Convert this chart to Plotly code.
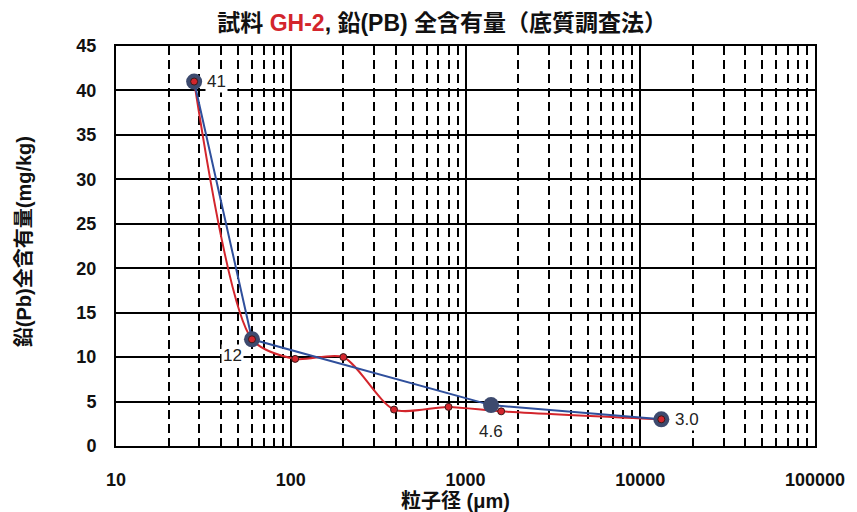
import numpy as np
import plotly.graph_objects as go

# ---- data ----
avg_x = [28, 60, 1400, 13200]          # particle size (μm) of averaged points
avg_y = [41, 12, 4.6, 3.0]             # Pb content (mg/kg)
avg_labels = ["41", "12", "4.6", "3.0"]

det_x = [28, 60, 106, 200, 390, 800, 1600, 13200]
det_y = [41, 12, 9.8, 10.0, 4.1, 4.4, 3.9, 3.0]

x_major = [10, 100, 1000, 10000, 100000]
x_minor = [m * d for d in [10, 100, 1000, 10000] for m in range(2, 10)]
y_ticks = list(range(0, 50, 5))

RED = "#d3252c"
BLUE = "#2f4f9c"
DOT = "#3d4a6e"
FONT = "Liberation Sans, Arial, Noto Sans CJK JP"

fig = go.Figure()

fig.add_trace(go.Scatter(
    x=det_x, y=det_y, mode="lines",
    line=dict(color=RED, width=2, shape="spline", smoothing=0.75),
    hoverinfo="skip", showlegend=False))

fig.add_trace(go.Scatter(
    x=avg_x, y=avg_y, mode="lines",
    line=dict(color=BLUE, width=2),
    hoverinfo="skip", showlegend=False))

fig.add_trace(go.Scatter(
    x=avg_x, y=avg_y, mode="markers",
    marker=dict(size=16, color=DOT, line=dict(width=0)),
    showlegend=False))

fig.add_trace(go.Scatter(
    x=det_x, y=det_y, mode="markers",
    marker=dict(size=7, color=RED, line=dict(color="#3a1a1a", width=1)),
    showlegend=False))

# value labels
offsets = [(22, 0), (-19, -16), (0, -26), (26, 0)]
for xv, yv, txt, (dx, dy) in zip(avg_x, avg_y, avg_labels, offsets):
    fig.add_annotation(
        x=np.log10(xv), y=yv, text=txt, showarrow=False,
        xshift=dx, yshift=dy, bgcolor="white",
        font=dict(size=17, color="#222", family=FONT), borderpad=1)

fig.update_xaxes(
    type="log", range=[1, 5],
    tickvals=x_major, ticktext=[str(v) for v in x_major],
    showgrid=True, gridcolor="black", gridwidth=1.5,
    showline=True, linecolor="black", linewidth=2, mirror="allticks",
    ticks="", ticklabelstandoff=16,
    tickfont=dict(size=18, color="#111", family=FONT, weight="bold"),
    minor=dict(tickmode="array", tickvals=x_minor, showgrid=True,
               gridcolor="black", gridwidth=1.5, griddash="9px,5px",
               ticks="inside", ticklen=6, tickcolor="black", tickwidth=1.5),
    zeroline=False)

fig.update_yaxes(
    range=[0, 45], tickvals=y_ticks,
    showgrid=True, gridcolor="black", gridwidth=1.5,
    showline=True, linecolor="black", linewidth=2, mirror=True,
    ticks="", ticklabelstandoff=14,
    tickfont=dict(size=18, color="#111", family=FONT, weight="bold"),
    zeroline=False)

fig.add_annotation(
    xref="paper", yref="paper", x=-0.15, y=0.51, textangle=-90,
    text="<b>鉛(Pb)全含有量(mg/kg)</b>", showarrow=False,
    font=dict(size=20, color="#111", family=FONT))

fig.add_annotation(
    xref="paper", yref="paper", x=0.485, y=-0.17,
    text="<b>粒子径 (μm)</b>", showarrow=False,
    font=dict(size=20, color="#111", family=FONT))

fig.update_layout(
    width=857, height=512,
    margin=dict(l=116, r=31, t=46, b=66),
    paper_bgcolor="white", plot_bgcolor="white",
    title=dict(
        text=f"<b>試料 <span style='color:{RED}'>GH-2</span>, 鉛(PB) 全含有量（底質調査法）</b>",
        x=0.516, xanchor="center", y=0.955, yanchor="middle",
        font=dict(size=23, color="#111", family=FONT)),
    showlegend=False)

fig.write_html("out.html")
